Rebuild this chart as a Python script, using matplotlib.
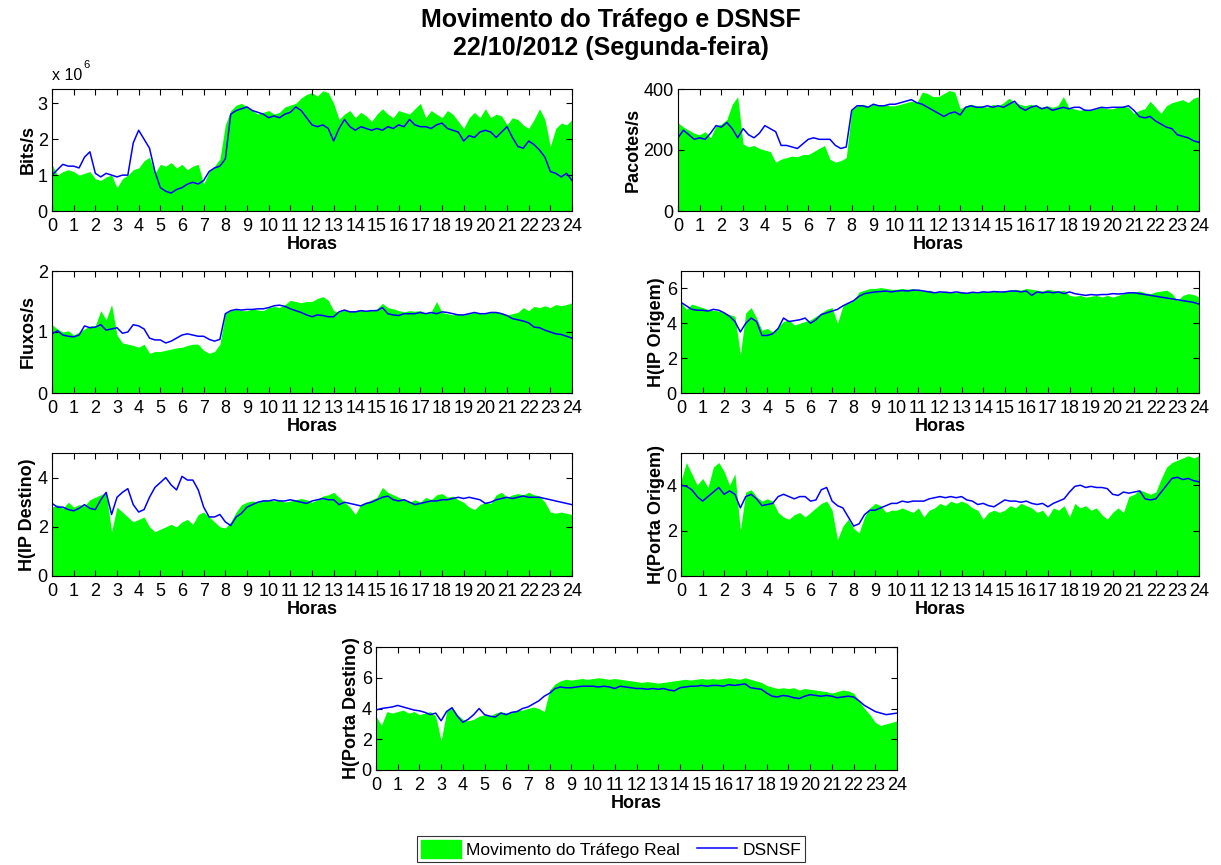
import numpy as np
import matplotlib
matplotlib.use('Agg')
import matplotlib.pyplot as plt
from matplotlib.patches import Patch
from matplotlib.lines import Line2D

plt.rcParams['font.family'] = ['Liberation Sans', 'DejaVu Sans']

# horas, amostras a cada 15 minutos
horas = np.arange(97) / 4.0

# --- Bits/s (x 10^6) ---
bits_real = [1.3, 1.0, 1.1, 1.15, 1.1, 1.0, 1.05, 1.1, 0.9, 0.85, 0.95, 1.0,
             0.65, 0.9, 1.0, 1.15, 1.2, 1.4, 1.5, 1.05, 1.3, 1.25, 1.35, 1.2,
             1.3, 1.15, 1.25, 1.3, 0.75, 1.1, 1.25, 1.45, 2.4, 2.8, 2.95, 3.0,
             2.9, 2.8, 2.7, 2.75, 2.8, 2.7, 2.75, 2.9, 2.95, 3.0, 3.15, 3.25,
             3.3, 3.2, 3.35, 3.3, 3.0, 2.55, 2.7, 2.8, 2.6, 2.75, 2.65, 2.5,
             2.7, 2.85, 2.7, 2.6, 2.8, 2.75, 2.7, 2.85, 3.0, 2.6, 2.8, 2.7,
             2.6, 2.8, 2.7, 2.5, 2.3, 2.6, 2.75, 2.6, 2.85, 2.6, 2.7, 2.65,
             2.4, 2.6, 2.55, 2.4, 2.3, 2.55, 2.85, 2.55, 1.8, 2.3, 2.45, 2.4,
             2.55]
bits_dsnsf = [1.0, 1.15, 1.3, 1.25, 1.25, 1.2, 1.5, 1.65, 1.05, 0.95, 1.05, 1.0,
              0.95, 1.0, 1.0, 1.9, 2.25, 2.0, 1.75, 1.1, 0.65, 0.55, 0.5, 0.6,
              0.65, 0.75, 0.8, 0.75, 0.85, 1.1, 1.2, 1.25, 1.45, 2.7, 2.8, 2.85,
              2.9, 2.8, 2.75, 2.7, 2.6, 2.65, 2.6, 2.7, 2.75, 2.9, 2.8, 2.6,
              2.4, 2.35, 2.4, 2.3, 1.95, 2.3, 2.55, 2.35, 2.25, 2.35, 2.3, 2.25,
              2.3, 2.25, 2.35, 2.3, 2.4, 2.35, 2.55, 2.4, 2.35, 2.35, 2.3, 2.4,
              2.45, 2.3, 2.25, 2.2, 1.95, 2.1, 2.05, 2.2, 2.25, 2.2, 2.05, 2.2,
              2.35, 2.05, 1.8, 1.75, 1.95, 1.85, 1.7, 1.5, 1.1, 1.05, 0.95, 1.05,
              0.85]

# --- Pacotes/s ---
pac_real = [290, 275, 265, 255, 250, 260, 240, 280, 285, 300, 350, 375,
            220, 210, 215, 205, 200, 195, 160, 170, 175, 180, 178, 185,
            185, 195, 205, 215, 170, 160, 165, 175, 330, 345, 350, 345,
            350, 345, 350, 345, 345, 350, 355, 360, 355, 390, 385, 375,
            375, 385, 395, 390, 335, 345, 350, 345, 345, 340, 350, 345,
            355, 370, 355, 350, 345, 350, 345, 340, 345, 340, 345, 375,
            340, 335, 330, 335, 330, 335, 340, 335, 335, 340, 345, 340,
            320, 330, 335, 360, 340, 320, 345, 355, 360, 365, 355, 370,
            375]
pac_dsnsf = [240, 265, 250, 235, 240, 235, 255, 280, 275, 290, 270, 240,
             270, 250, 240, 255, 280, 270, 260, 215, 215, 210, 205, 220,
             235, 240, 235, 235, 235, 215, 205, 210, 330, 345, 345, 340,
             350, 345, 345, 350, 350, 355, 360, 365, 355, 350, 340, 330,
             320, 310, 320, 325, 315, 340, 345, 340, 340, 345, 340, 345,
             340, 350, 360, 340, 330, 340, 345, 335, 340, 330, 335, 340,
             335, 340, 340, 330, 330, 335, 340, 338, 340, 340, 340, 345,
             330, 310, 305, 310, 295, 285, 275, 270, 250, 245, 240, 230,
             225]

# --- Fluxos/s ---
flu_real = [1.12, 1.05, 1.0, 1.02, 0.95, 1.0, 1.05, 1.1, 1.1, 1.35, 1.2, 1.45,
            0.95, 0.82, 0.8, 0.78, 0.75, 0.8, 0.65, 0.68, 0.68, 0.7, 0.72, 0.74,
            0.75, 0.78, 0.8, 0.8, 0.7, 0.65, 0.68, 0.8, 1.3, 1.35, 1.37, 1.35,
            1.35, 1.38, 1.36, 1.35, 1.4, 1.42, 1.4, 1.45, 1.52, 1.5, 1.48, 1.5,
            1.5, 1.55, 1.58, 1.52, 1.35, 1.33, 1.36, 1.35, 1.35, 1.37, 1.35, 1.36,
            1.38, 1.47, 1.4, 1.38, 1.35, 1.33, 1.35, 1.34, 1.35, 1.3, 1.33, 1.5,
            1.32, 1.3, 1.28, 1.3, 1.28, 1.3, 1.32, 1.3, 1.3, 1.33, 1.33, 1.32,
            1.28, 1.3, 1.32, 1.4, 1.35, 1.42, 1.4, 1.43, 1.4, 1.45, 1.43, 1.45,
            1.48]
flu_dsnsf = [0.97, 1.02, 0.95, 0.93, 0.92, 0.95, 1.1, 1.07, 1.08, 1.12, 1.03, 1.05,
             1.07, 0.98, 1.0, 1.12, 1.1, 1.05, 0.9, 0.87, 0.87, 0.82, 0.85, 0.9,
             0.95, 0.97, 0.95, 0.93, 0.93, 0.88, 0.85, 0.88, 1.3, 1.35, 1.37, 1.36,
             1.37, 1.37, 1.38, 1.38, 1.4, 1.43, 1.44, 1.42, 1.38, 1.35, 1.32, 1.28,
             1.25, 1.28, 1.27, 1.25, 1.25, 1.33, 1.36, 1.33, 1.33, 1.35, 1.34, 1.35,
             1.35, 1.4, 1.3, 1.28, 1.27, 1.3, 1.3, 1.3, 1.32, 1.3, 1.32, 1.3,
             1.33, 1.32, 1.3, 1.28, 1.28, 1.3, 1.32, 1.3, 1.3, 1.32, 1.32, 1.3,
             1.27, 1.22, 1.2, 1.18, 1.15, 1.08, 1.07, 1.03, 1.0, 0.97, 0.96, 0.93,
             0.9]

# --- H(IP Origem) ---
ipo_real = [5.2, 4.8, 5.1, 5.0, 4.9, 4.8, 4.75, 4.7, 4.6, 4.5, 4.4, 2.2,
            4.6, 4.9, 4.3, 3.6, 3.7, 3.5, 3.8, 4.1, 4.2, 3.9, 4.0, 4.1,
            4.2, 4.4, 4.6, 4.8, 4.9, 4.0, 5.0, 5.2, 5.3, 5.8, 5.9, 6.0,
            6.0, 6.05, 6.0, 5.95, 5.95, 6.0, 5.95, 6.0, 5.9, 5.85, 5.9, 5.8,
            5.8, 5.85, 5.8, 5.75, 5.8, 5.75, 5.8, 5.8, 5.85, 5.8, 5.85, 5.8,
            5.85, 5.9, 5.95, 5.9, 6.0, 5.95, 5.9, 5.85, 5.95, 5.9, 5.85, 5.9,
            5.6, 5.55, 5.6, 5.5, 5.55, 5.6, 5.5, 5.6, 5.5, 5.6, 5.7, 5.8,
            5.8, 5.85, 5.75, 5.7, 5.8, 5.85, 5.9, 5.7, 5.3, 5.6, 5.7, 5.65,
            5.5]
ipo_dsnsf = [5.2, 5.0, 4.8, 4.75, 4.75, 4.7, 4.8, 4.75, 4.6, 4.4, 4.1, 3.5,
             4.0, 4.3, 4.1, 3.3, 3.3, 3.4, 3.7, 4.3, 4.1, 4.15, 4.2, 4.3,
             4.0, 4.2, 4.5, 4.6, 4.7, 4.8, 5.0, 5.15, 5.3, 5.55, 5.7, 5.75,
             5.8, 5.82, 5.85, 5.8, 5.85, 5.88, 5.85, 5.9, 5.9, 5.85, 5.8, 5.75,
             5.8, 5.78, 5.75, 5.8, 5.75, 5.72, 5.78, 5.75, 5.8, 5.78, 5.82, 5.8,
             5.8, 5.85, 5.85, 5.8, 5.85, 5.6, 5.8, 5.75, 5.8, 5.75, 5.8, 5.7,
             5.8, 5.7, 5.65, 5.6, 5.65, 5.62, 5.65, 5.65, 5.7, 5.68, 5.7, 5.75,
             5.75, 5.7, 5.65, 5.6, 5.55, 5.5, 5.45, 5.4, 5.35, 5.3, 5.25, 5.2,
             5.1]

# --- H(IP Destino) ---
ipd_real = [2.8, 2.9, 2.75, 3.0, 2.8, 2.9, 2.85, 3.1, 3.2, 3.3, 3.4, 1.8,
            2.8, 2.6, 2.4, 2.2, 2.3, 2.4, 2.0, 1.8, 1.9, 2.0, 2.1, 2.0,
            2.2, 2.3, 2.1, 2.5, 2.6, 2.4, 2.2, 2.0, 1.95, 2.2, 2.6, 2.9,
            3.0, 3.05, 3.0, 3.1, 3.1, 3.05, 3.1, 3.0, 3.05, 3.1, 3.15, 3.1,
            3.0, 3.1, 3.25, 3.3, 3.4, 3.2, 3.0, 2.8, 2.5, 2.9, 3.0, 3.1,
            3.2, 3.6, 3.4, 3.3, 3.2, 3.1, 3.0, 3.1, 3.0, 3.2, 3.1, 3.3,
            3.35, 3.2, 3.25, 3.1, 3.0, 2.8, 2.7, 2.9, 3.0, 2.95, 3.3, 3.4,
            3.2, 3.3, 3.35, 3.3, 3.4, 3.3, 3.25, 3.0, 2.6, 2.55, 2.6, 2.55,
            2.5]
ipd_dsnsf = [2.95, 2.8, 2.8, 2.7, 2.65, 2.75, 2.9, 2.75, 2.7, 3.1, 3.4, 2.5,
             3.2, 3.4, 3.55, 2.9, 2.6, 2.7, 3.2, 3.6, 3.8, 4.0, 3.7, 3.5,
             4.05, 3.9, 3.9, 3.5, 2.8, 2.4, 2.4, 2.5, 2.2, 2.05, 2.4, 2.55,
             2.8, 2.9, 3.0, 3.05, 3.05, 3.1, 3.05, 3.05, 3.1, 3.05, 3.0, 2.95,
             3.05, 3.1, 3.15, 3.1, 3.1, 2.9, 3.0, 2.95, 2.9, 2.85, 2.95, 3.0,
             3.1, 3.2, 3.25, 3.1, 3.05, 3.1, 3.0, 2.9, 2.95, 3.0, 3.05, 3.05,
             3.1, 3.1, 3.15, 3.2, 3.15, 3.2, 3.15, 3.1, 2.95, 3.0, 3.1, 3.15,
             3.2, 3.15, 3.2, 3.25, 3.2, 3.2, 3.2, 3.15, 3.1, 3.05, 3.0, 2.95,
             2.9]

# --- H(Porta Origem) ---
pto_real = [4.2, 5.0, 4.5, 4.0, 4.3, 3.9, 4.8, 5.0, 4.6, 4.0, 4.5, 2.0,
            3.7, 3.8, 3.5, 3.3, 3.4, 3.3, 2.8, 2.6, 2.5, 2.7, 2.8, 2.6,
            2.8, 3.0, 3.2, 3.3, 2.9, 1.6, 2.2, 2.5, 2.1, 1.9, 2.6, 3.0,
            3.2, 3.1, 2.8, 2.9, 2.9, 3.0, 2.9, 2.8, 3.0, 2.6, 2.9, 3.0,
            3.2, 3.1, 3.3, 3.2, 3.3, 3.2, 3.0, 2.9, 2.5, 2.8, 2.9, 2.8,
            2.9, 3.1, 3.0, 3.2, 3.1, 3.0, 2.8, 2.9, 2.6, 3.0, 2.9, 3.1,
            2.6, 3.2, 3.0, 3.1, 2.9, 3.0, 2.7, 2.5, 2.8, 3.0, 2.8, 3.5,
            3.6, 3.8, 3.7, 3.6, 3.7, 4.3, 4.8, 5.0, 5.1, 5.2, 5.3, 5.2,
            5.3]
pto_dsnsf = [4.0, 3.95, 3.8, 3.5, 3.3, 3.5, 3.7, 3.9, 3.6, 3.75, 3.6, 3.0,
             3.5, 3.6, 3.4, 3.1, 3.15, 3.2, 3.5, 3.6, 3.5, 3.4, 3.5, 3.5,
             3.3, 3.35, 3.8, 3.9, 3.3, 3.1, 3.0, 2.6, 2.2, 2.3, 2.7, 2.9,
             2.9, 3.0, 3.1, 3.2, 3.2, 3.3, 3.25, 3.3, 3.3, 3.3, 3.4, 3.45,
             3.5, 3.45, 3.5, 3.45, 3.5, 3.35, 3.3, 3.15, 3.2, 3.1, 3.05, 3.2,
             3.35, 3.3, 3.3, 3.25, 3.3, 3.2, 3.15, 3.2, 3.05, 3.2, 3.3, 3.4,
             3.7, 3.95, 4.0, 3.9, 3.95, 3.9, 3.9, 3.85, 3.6, 3.55, 3.7, 3.65,
             3.7, 3.75, 3.4, 3.35, 3.4, 3.7, 4.0, 4.3, 4.35, 4.25, 4.3, 4.2,
             4.15]

# --- H(Porta Destino) ---
ptd_real = [3.5, 2.9, 3.8, 3.7, 3.8, 3.9, 3.7, 3.8, 3.6, 3.7, 3.8, 3.5,
            1.9, 3.8, 4.1, 3.6, 3.3, 3.2, 3.3, 3.5, 3.6, 3.5, 3.7, 3.8,
            3.7, 3.8, 3.9, 3.9, 4.0, 4.1, 4.0, 3.8, 5.2, 5.6, 5.8, 5.9,
            5.85, 5.9, 5.95, 5.9, 5.95, 6.0, 5.95, 5.9, 5.95, 5.9, 5.85, 5.8,
            5.75, 5.7, 5.75, 5.7, 5.65, 5.7, 5.75, 5.8, 5.85, 5.9, 5.85, 5.9,
            5.95, 5.9, 5.95, 5.9, 5.95, 6.0, 5.95, 5.9, 6.0, 5.9, 5.8, 5.7,
            5.5, 5.4, 5.3, 5.35, 5.3, 5.35, 5.2, 5.3, 5.25, 5.2, 5.15, 5.1,
            5.0, 5.1, 5.2, 5.15, 5.0, 4.5, 4.0, 3.6, 3.1, 2.9, 3.0, 3.1,
            3.2]
ptd_dsnsf = [3.9, 4.0, 4.05, 4.1, 4.2, 4.1, 4.0, 3.9, 3.85, 3.75, 3.6, 3.7,
             3.2, 3.8, 4.05, 3.5, 3.1, 3.3, 3.6, 4.0, 3.6, 3.5, 3.45, 3.7,
             3.6, 3.75, 3.8, 4.0, 4.1, 4.3, 4.5, 4.8, 5.0, 5.3, 5.4, 5.35,
             5.35, 5.4, 5.45, 5.45, 5.45, 5.4, 5.45, 5.4, 5.3, 5.45, 5.4, 5.35,
             5.3, 5.3, 5.25, 5.3, 5.25, 5.3, 5.2, 5.15, 5.35, 5.4, 5.45, 5.45,
             5.5, 5.45, 5.5, 5.5, 5.45, 5.55, 5.5, 5.55, 5.6, 5.35, 5.3, 5.25,
             5.0, 4.8, 4.75, 4.85, 4.8, 4.7, 4.65, 4.8, 4.9, 4.85, 4.8, 4.85,
             4.8, 4.7, 4.75, 4.8, 4.75, 4.5, 4.2, 4.0, 3.8, 3.7, 3.6, 3.65,
             3.7]

VERDE = '#00ff00'
AZUL = '#0000ff'

# (dados real, dsnsf, rótulo, ylim, yticks, posição [esq, topo, larg, alt] em px)
paineis = [
    (bits_real, bits_dsnsf, 'Bits/s', 3.4, [0, 1, 2, 3], (52, 89, 520, 122)),
    (pac_real, pac_dsnsf, 'Pacotes/s', 400, [0, 200, 400], (678, 89, 521, 122)),
    (flu_real, flu_dsnsf, 'Fluxos/s', 2, [0, 1, 2], (52, 271, 520, 122)),
    (ipo_real, ipo_dsnsf, 'H(IP Origem)', 7, [0, 2, 4, 6], (681, 271, 518, 122)),
    (ipd_real, ipd_dsnsf, 'H(IP Destino)', 5, [0, 2, 4], (52, 453, 520, 123)),
    (pto_real, pto_dsnsf, 'H(Porta Origem)', 5.42, [0, 2, 4], (681, 453, 518, 123)),
    (ptd_real, ptd_dsnsf, 'H(Porta Destino)', 8, [0, 2, 4, 6, 8], (376, 647, 521, 123)),
]

W, H = 1221, 865
fig = plt.figure(figsize=(W / 100, H / 100), dpi=100)

for real, dsnsf, rotulo, ytop, yt, (x0, y0, w, h) in paineis:
    ax = fig.add_axes([x0 / W, 1 - (y0 + h) / H, w / W, h / H])
    ax.fill_between(horas, 0, real, color=VERDE, linewidth=0)
    ax.plot(horas, dsnsf, color=AZUL, linewidth=1.1)
    ax.set_xlim(0, 24)
    ax.set_ylim(0, ytop)
    ax.set_xticks(range(25))
    ax.set_yticks(yt)
    ax.tick_params(direction='in', top=True, right=True, labelsize=13,
                   length=4, pad=3)
    ax.tick_params(axis='x', pad=5)
    ax.set_xlabel('Horas', fontsize=13, fontweight='bold', labelpad=1)
    ax.set_ylabel(rotulo, fontsize=13, fontweight='bold', labelpad=1)
    for s in ax.spines.values():
        s.set_linewidth(0.8)

# multiplicador do eixo de bits
fig.text(52 / W, 1 - 76 / H, 'x 10', fontsize=11.5, va='center', ha='left')
fig.text(83 / W, 1 - 65 / H, '6', fontsize=8, va='center', ha='left')

fig.text(0.5, 1 - 20 / H, 'Movimento do Tráfego e DSNSF', fontsize=18,
         fontweight='bold', ha='center', va='center')
fig.text(0.5, 1 - 48 / H, '22/10/2012 (Segunda-feira)', fontsize=18,
         fontweight='bold', ha='center', va='center')

handles = [Patch(facecolor=VERDE, edgecolor=VERDE),
           Line2D([0], [0], color=AZUL, linewidth=1.1)]
leg = fig.legend(handles, ['Movimento do Tráfego Real', 'DSNSF'],
                 loc='upper center', bbox_to_anchor=(611 / W, 1 - 836 / H),
                 ncol=2, fontsize=12.5, frameon=True, fancybox=False,
                 edgecolor='black', handlelength=2.3, handleheight=1.2,
                 columnspacing=1.0, borderpad=0.25, handletextpad=0.3,
                 borderaxespad=0)
leg.get_frame().set_linewidth(0.8)

fig.savefig('out.png', dpi=100)
